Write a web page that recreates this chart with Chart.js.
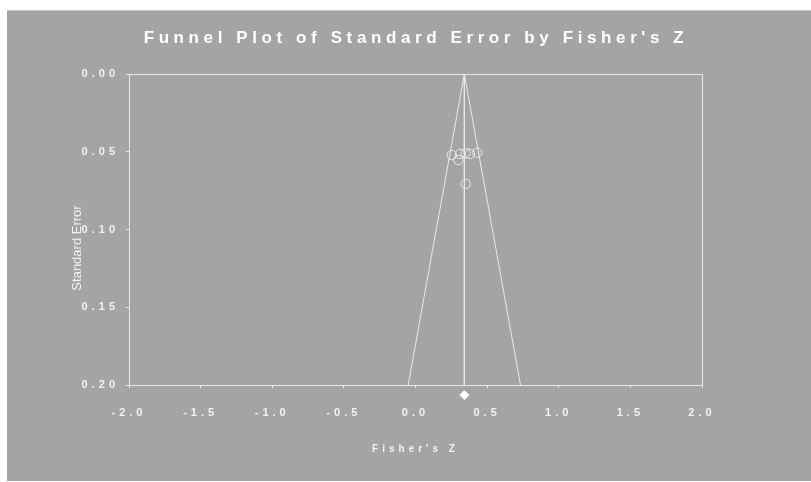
<!DOCTYPE html>
<html>
<head>
<meta charset="utf-8">
<script src="https://cdn.jsdelivr.net/npm/chart.js@4.4.0/dist/chart.umd.min.js"></script>
<style>
  body { margin: 0; background: #ffffff; }
  #wrap { width: 811px; height: 482px; }
</style>
</head>
<body>
<div id="wrap"><canvas id="funnel" width="811" height="482"></canvas></div>
<script>
const canvas = document.getElementById("funnel");

// studies (Fisher's Z, standard error)
const studyZ = [0.253, 0.311, 0.299, 0.350, 0.380, 0.431, 0.350];
const studySE = [0.0521, 0.0514, 0.0553, 0.0510, 0.0514, 0.0506, 0.0707];

// summary effect and the 95% funnel
const summaryZ = [0.341];
const summaryY = [0.2064];
const funnelZ = [-0.051, 0.341, 0.733];
const funnelSE = [0.2, 0.0, 0.2];
const centerZ = [0.341, 0.341];
const centerSE = [0.0, 0.2];

const xTicks = [-2.0, -1.5, -1.0, -0.5, 0.0, 0.5, 1.0, 1.5, 2.0];
const yTicks = [0.00, 0.05, 0.10, 0.15, 0.20];

const bg = "#a4a4a4";
const fg = "#f2f2f2";
const lineCol = "#e8e8e8";
const fontFam = "'Liberation Sans', Arial, sans-serif";

const toPoints = (xs, ys) => xs.map((x, i) => ({ x: x, y: ys[i] }));

const backdrop = {
    id: "backdrop",
    beforeDraw(chart) {
        const ctx = chart.ctx;
        ctx.save();
        ctx.fillStyle = "#ffffff";
        ctx.fillRect(0, 0, chart.width, chart.height);
        ctx.fillStyle = bg;
        ctx.fillRect(7, 10, chart.width - 7, chart.height - 11);
        ctx.strokeStyle = "#c8c8c8";
        ctx.beginPath();
        ctx.moveTo(7, 10.5);
        ctx.lineTo(chart.width, 10.5);
        ctx.stroke();

        // title
        ctx.letterSpacing = "4.6px";
        ctx.font = "bold 17px " + fontFam;
        ctx.fillStyle = "#ffffff";
        ctx.textAlign = "center";
        ctx.textBaseline = "middle";
        ctx.fillText("Funnel Plot of Standard Error by Fisher's Z", 416, 38);
        ctx.restore();
        ctx.letterSpacing = "4px";
    },
    beforeDatasetsDraw(chart) {
        const a = chart.chartArea;
        const ctx = chart.ctx;
        ctx.save();
        ctx.strokeStyle = lineCol;
        ctx.lineWidth = 1;
        ctx.strokeRect(Math.round(a.left) + 0.5, Math.round(a.top) + 0.5,
            Math.round(a.right - a.left), Math.round(a.bottom - a.top));
        ctx.restore();
    },
    afterDraw(chart) {
        const ctx = chart.ctx;
        ctx.save();
        ctx.letterSpacing = "0px";
        ctx.translate(77, 248);
        ctx.rotate(-Math.PI / 2);
        ctx.font = "13px " + fontFam;
        ctx.fillStyle = fg;
        ctx.textAlign = "center";
        ctx.textBaseline = "middle";
        ctx.fillText("Standard Error", 0, 0);
        ctx.restore();
    }
};

new Chart(canvas, {
    type: "scatter",
    plugins: [backdrop],
    data: {
        datasets: [
            {
                label: "funnel",
                data: toPoints(funnelZ, funnelSE),
                showLine: true,
                borderColor: lineCol,
                borderWidth: 1,
                pointRadius: 0,
            },
            {
                label: "center",
                data: toPoints(centerZ, centerSE),
                showLine: true,
                borderColor: lineCol,
                borderWidth: 1,
                pointRadius: 0,
            },
            {
                label: "studies",
                data: toPoints(studyZ, studySE),
                pointStyle: "circle",
                pointRadius: 4.7,
                borderColor: lineCol,
                borderWidth: 1,
                backgroundColor: "rgba(0,0,0,0)",
            },
            {
                // sits just under the plot box, so a wide transparent border
                // keeps it inside the point-in-area margin
                label: "summary",
                data: toPoints(summaryZ, summaryY),
                pointStyle: "rectRot",
                pointRadius: 5,
                borderWidth: 9,
                borderColor: "rgba(0,0,0,0)",
                backgroundColor: "#ffffff",
                clip: false,
            },
        ],
    },
    options: {
        responsive: false,
        animation: false,
        layout: { padding: { left: 69, right: 109, top: 74, bottom: 0 } },
        plugins: {
            legend: { display: false },
            tooltip: { enabled: false },
            title: { display: false },
        },
        scales: {
            x: {
                type: "linear",
                min: -2,
                max: 2,
                afterBuildTicks: (s) => { s.ticks = xTicks.map(v => ({ value: v })); },
                afterFit: (s) => { s.height = 97; s.paddingLeft = 0; s.paddingRight = 0; },
                border: { display: false },
                grid: { drawOnChartArea: false, drawTicks: true, tickLength: 3, color: lineCol },
                ticks: {
                    color: fg,
                    padding: 18,
                    maxRotation: 0,
                    font: { family: fontFam, size: 11, weight: "bold" },
                    callback: (v) => Number(v).toFixed(1),
                },
                title: {
                    display: true,
                    text: "Fisher's Z",
                    color: fg,
                    font: { family: fontFam, size: 10, weight: "bold" },
                    padding: { top: 0, bottom: 27 },
                },
            },
            y: {
                type: "linear",
                reverse: true,
                min: 0,
                max: 0.2,
                afterBuildTicks: (s) => { s.ticks = yTicks.map(v => ({ value: v })); },
                afterFit: (s) => { s.width = 60; s.paddingTop = 0; s.paddingBottom = 0; },
                border: { display: false },
                grid: { drawOnChartArea: false, drawTicks: true, tickLength: 3, color: lineCol },
                ticks: {
                    color: fg,
                    padding: 7,
                    font: { family: fontFam, size: 11, weight: "bold" },
                    callback: (v) => Number(v).toFixed(2),
                },
            },
        },
    },
});
</script>
</body>
</html>
